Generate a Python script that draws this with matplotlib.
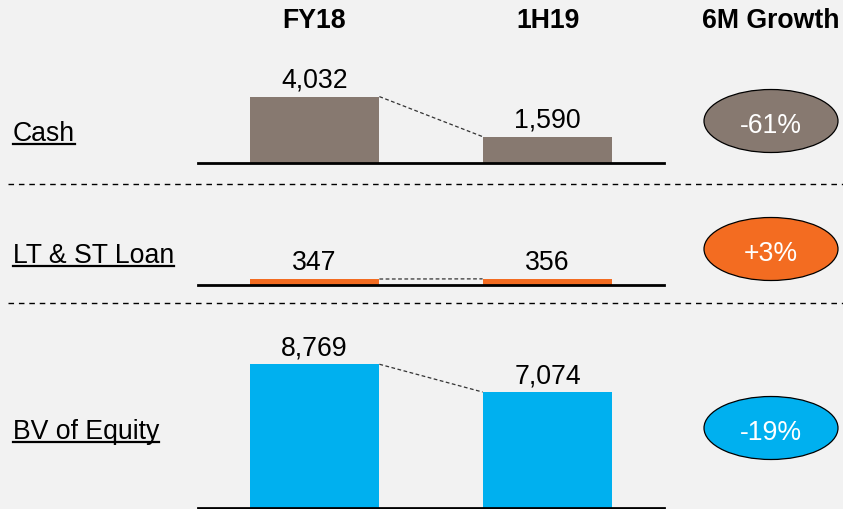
import matplotlib
matplotlib.use("Agg")
import matplotlib.pyplot as plt
from matplotlib.patches import Ellipse
from matplotlib.lines import Line2D

plt.rcParams['font.family'] = ['Liberation Sans', 'DejaVu Sans']

# data
periods = ["FY18", "1H19"]
rows = ["Cash", "LT & ST Loan", "BV of Equity"]
fy18 = [4032, 347, 8769]
h119 = [1590, 356, 7074]
growth = ["-61%", "+3%", "-19%"]
colors = ["#877970", "#f36c21", "#00b0ef"]

W, H = 843, 510
BG = "#f2f2f2"
FS = 19.2
UNITS_PER_PX = 61.0   # same value scale for every row

fig = plt.figure(figsize=(W / 100, H / 100), dpi=100, facecolor=BG)

def fx(x):
    return x / W

def fy(y):
    return 1 - y / H

# row layout in pixels: baseline, axes height, label baseline, ellipse centre
baselines = [163.7, 285.7, 509.0]
ax_heights = [110, 100, 170]
label_y = [141, 263, 439]
ell_y = [122, 250, 429]
ax_left, ax_right = 198, 664

# header
fig.text(fx(314.5), fy(28), periods[0], ha='center', va='baseline', fontsize=FS, fontweight='bold')
fig.text(fx(548), fy(28), periods[1], ha='center', va='baseline', fontsize=FS, fontweight='bold')
fig.text(fx(771), fy(28), "6M Growth", ha='center', va='baseline', fontsize=FS, fontweight='bold')

bw = 0.557
for i in range(3):
    b = baselines[i]
    h = ax_heights[i]
    ax = fig.add_axes([fx(ax_left), fy(b), fx(ax_right - ax_left), h / H])
    ax.set_facecolor('none')
    ax.set_xlim(-0.5, 1.5)
    ax.set_ylim(0, h * UNITS_PER_PX)
    ax.axis('off')
    vals = [fy18[i], h119[i]]
    ax.bar([0, 1], vals, width=bw, color=colors[i], zorder=2)
    ax.axhline(0, color='black', lw=2, zorder=3, clip_on=False)
    ax.plot([bw / 2, 1 - bw / 2], vals, color='#333333', lw=0.9,
            dashes=(3, 2), zorder=1)
    for xi, v in enumerate(vals):
        ax.annotate(f"{v:,}", (xi, v), xytext=(0, 7.2), textcoords='offset points',
                    ha='center', va='baseline', fontsize=FS)

    # growth bubble
    e = Ellipse((fx(771), fy(ell_y[i])), fx(134), 63 / H, transform=fig.transFigure,
                facecolor=colors[i], edgecolor='black', lw=0.9)
    fig.add_artist(e)
    fig.text(fx(771), fy(ell_y[i] + 1), growth[i], ha='center', va='center_baseline',
             fontsize=FS, color='white')

# row labels (underlined)
labels = []
for i, r in enumerate(rows):
    t = fig.text(fx(13), fy(label_y[i]), r, ha='left', va='baseline', fontsize=FS)
    labels.append(t)

fig.canvas.draw()
rend = fig.canvas.get_renderer()
for i, t in enumerate(labels):
    bb = t.get_window_extent(renderer=rend)
    uy = fy(label_y[i] + 3.5)
    fig.add_artist(Line2D([bb.x0 / W, bb.x1 / W], [uy, uy], transform=fig.transFigure,
                          color='black', lw=1.6))

# dashed separators
for sy in [185, 304]:
    fig.add_artist(Line2D([fx(8), 1], [fy(sy), fy(sy)], transform=fig.transFigure,
                          color='black', lw=1.0, dashes=(4, 3.5)))

fig.savefig("out.png", dpi=100, facecolor=BG)
